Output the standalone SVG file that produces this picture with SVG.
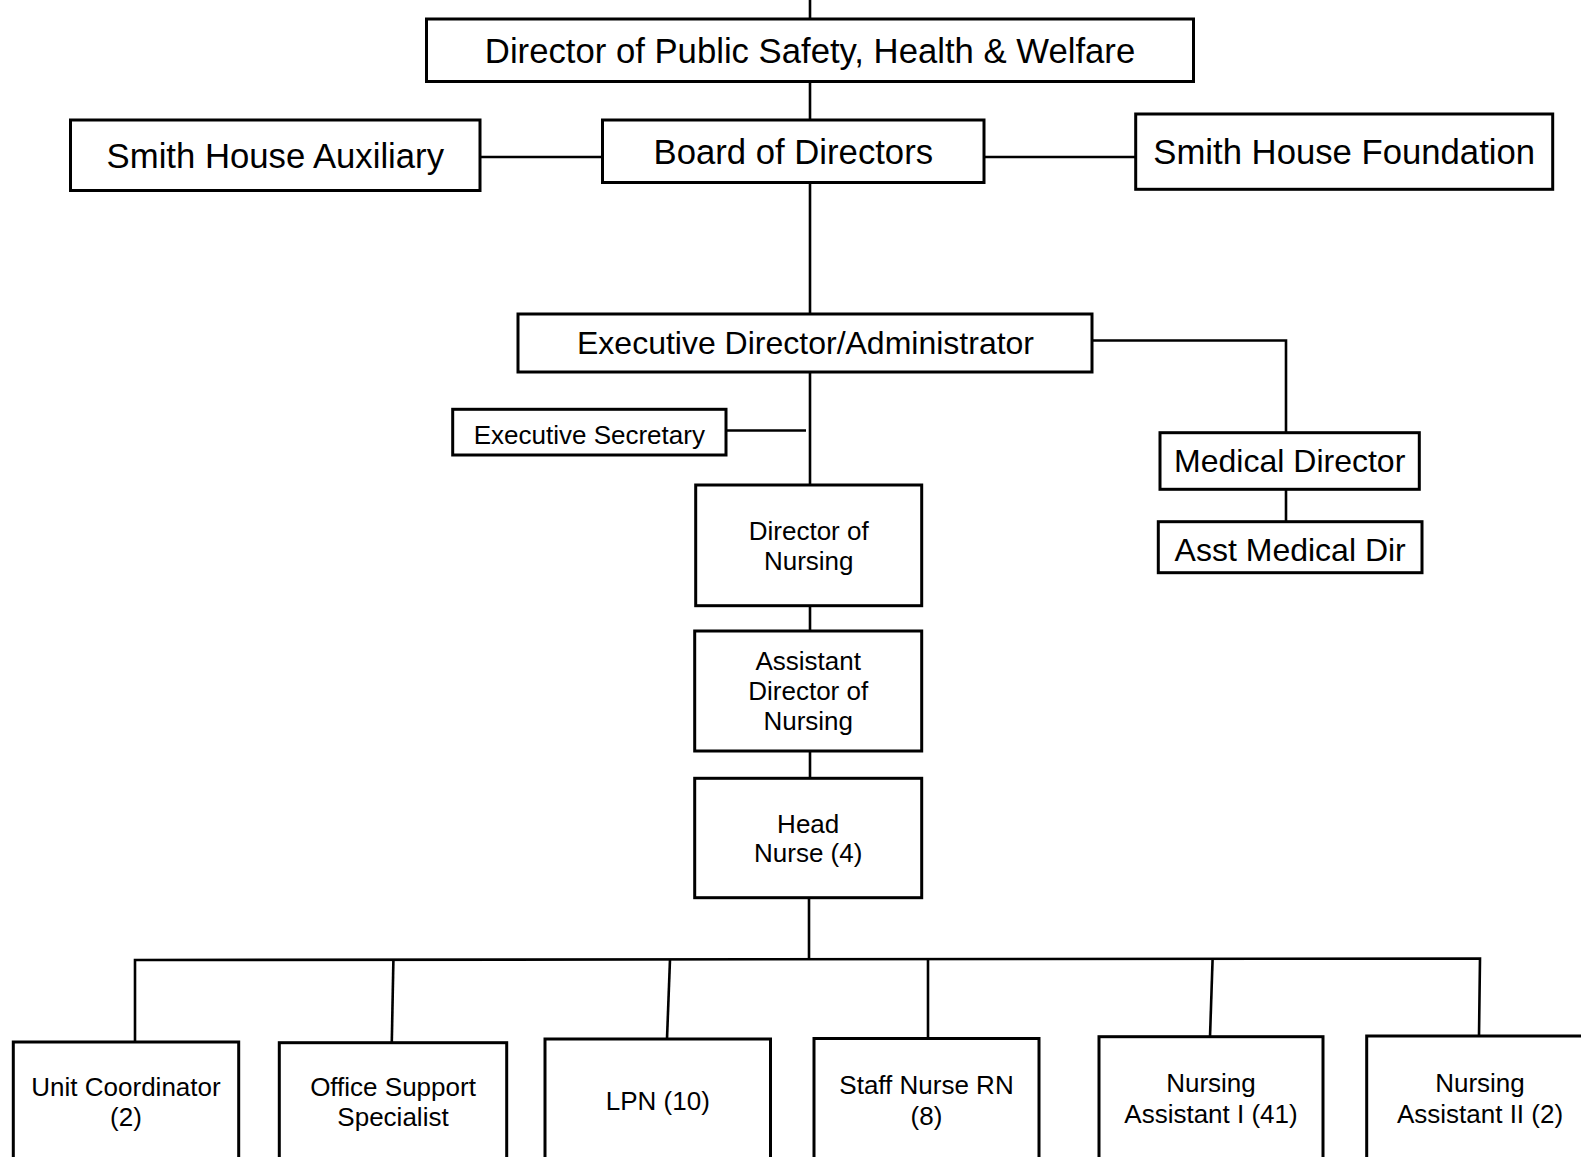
<svg xmlns="http://www.w3.org/2000/svg" width="1581" height="1157" viewBox="0 0 1581 1157">
  <style>
    .box { fill: #ffffff; stroke: #000000; stroke-width: 3; }
    .link { fill: none; stroke: #000000; stroke-width: 2.6; }
    text { font-family: "Liberation Sans", Arial, sans-serif; fill: #000000; text-anchor: middle; }
    .lg { font-size: 34.7px; }
    .md { font-size: 32px; }
    .sm { font-size: 26px; }
  </style>
  <rect width="1581" height="1157" fill="#ffffff"/>

  <!-- reporting lines -->
  <g id="connectors">
    <line class="link" x1="810" y1="0" x2="810" y2="20"/>
    <line class="link" x1="810" y1="82" x2="810" y2="120"/>
    <line class="link" x1="480" y1="157" x2="602" y2="157"/>
    <line class="link" x1="984" y1="157" x2="1136" y2="157"/>
    <line class="link" x1="810" y1="183" x2="810" y2="314"/>
    <polyline class="link" points="1092,340.5 1286,340.5 1286,433"/>
    <line class="link" x1="1286" y1="489" x2="1286" y2="522"/>
    <line class="link" x1="810" y1="372" x2="810" y2="485"/>
    <line class="link" x1="726" y1="430.5" x2="806" y2="430.5"/>
    <line class="link" x1="810" y1="606" x2="810" y2="631"/>
    <line class="link" x1="810" y1="751" x2="810" y2="778"/>
    <line class="link" x1="809" y1="898" x2="809" y2="959"/>
    <polyline class="link" points="135,1041 135,960 1480,958.5 1479,1036"/>
    <line class="link" x1="393.4" y1="960" x2="391.8" y2="1042"/>
    <line class="link" x1="670" y1="959.5" x2="667" y2="1039"/>
    <line class="link" x1="928" y1="959" x2="928" y2="1039"/>
    <line class="link" x1="1212.6" y1="959" x2="1210" y2="1037"/>
  </g>

  <g id="director-public-safety">
    <rect class="box" x="426.5" y="19" width="767" height="62.5"/>
    <text class="lg" x="810" y="62.5">Director of Public Safety, Health &amp; Welfare</text>
  </g>

  <g id="smith-house-auxiliary">
    <rect class="box" x="70.5" y="120" width="409.5" height="70.5"/>
    <text class="lg" x="275.3" y="168">Smith House Auxiliary</text>
  </g>

  <g id="board-of-directors">
    <rect class="box" x="602.5" y="120" width="381.5" height="62.5"/>
    <text class="lg" x="793.3" y="164">Board of Directors</text>
  </g>

  <g id="smith-house-foundation">
    <rect class="box" x="1135.7" y="114" width="417" height="75.3"/>
    <text class="lg" x="1344.2" y="164">Smith House Foundation</text>
  </g>

  <g id="executive-director">
    <rect class="box" x="518" y="314" width="574" height="58"/>
    <text class="md" x="805.5" y="354">Executive Director/Administrator</text>
  </g>

  <g id="executive-secretary">
    <rect class="box" x="452.7" y="409.3" width="273.3" height="45.7"/>
    <text class="sm" x="589.3" y="443.5">Executive Secretary</text>
  </g>

  <g id="medical-director">
    <rect class="box" x="1160" y="432.7" width="259.3" height="56.6"/>
    <text class="md" x="1289.7" y="471.5">Medical Director</text>
  </g>

  <g id="asst-medical-dir">
    <rect class="box" x="1158.3" y="521.7" width="263.7" height="51"/>
    <text class="md" x="1290.2" y="561">Asst Medical Dir</text>
  </g>

  <g id="director-of-nursing">
    <rect class="box" x="695.7" y="485" width="226" height="120.7"/>
    <text class="sm" x="808.7" y="540">Director of</text>
    <text class="sm" x="808.7" y="569.5">Nursing</text>
  </g>

  <g id="assistant-director-of-nursing">
    <rect class="box" x="694.7" y="631" width="227" height="120"/>
    <text class="sm" x="808.2" y="670">Assistant</text>
    <text class="sm" x="808.2" y="700">Director of</text>
    <text class="sm" x="808.2" y="729.5">Nursing</text>
  </g>

  <g id="head-nurse">
    <rect class="box" x="694.7" y="778.3" width="227" height="119.4"/>
    <text class="sm" x="808.2" y="832.5">Head</text>
    <text class="sm" x="808.2" y="861.5">Nurse (4)</text>
  </g>

  <g id="unit-coordinator">
    <rect class="box" x="13.3" y="1042" width="225.4" height="140"/>
    <text class="sm" x="126" y="1096">Unit Coordinator</text>
    <text class="sm" x="126" y="1126">(2)</text>
  </g>

  <g id="office-support-specialist">
    <rect class="box" x="279.3" y="1042.7" width="227.4" height="140"/>
    <text class="sm" x="393" y="1096">Office Support</text>
    <text class="sm" x="393" y="1126">Specialist</text>
  </g>

  <g id="lpn">
    <rect class="box" x="545" y="1039" width="225.5" height="140"/>
    <text class="sm" x="657.8" y="1110">LPN (10)</text>
  </g>

  <g id="staff-nurse-rn">
    <rect class="box" x="814" y="1038.5" width="225" height="140"/>
    <text class="sm" x="926.5" y="1094">Staff Nurse RN</text>
    <text class="sm" x="926.5" y="1125">(8)</text>
  </g>

  <g id="nursing-assistant-i">
    <rect class="box" x="1099" y="1036.7" width="224" height="140"/>
    <text class="sm" x="1211" y="1092">Nursing</text>
    <text class="sm" x="1211" y="1123">Assistant I (41)</text>
  </g>

  <g id="nursing-assistant-ii">
    <rect class="box" x="1366.7" y="1036" width="225" height="140"/>
    <text class="sm" x="1480" y="1092">Nursing</text>
    <text class="sm" x="1480" y="1123">Assistant II (2)</text>
  </g>
</svg>
